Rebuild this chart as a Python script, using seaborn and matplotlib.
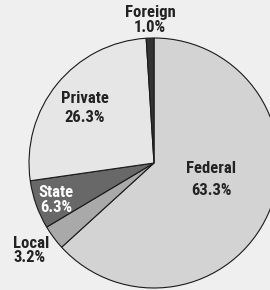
import matplotlib
matplotlib.use("Agg")
import matplotlib.pyplot as plt
import seaborn as sns

sns.set_style("white")
plt.rcParams['font.family'] = ['Roboto Condensed', 'DejaVu Sans']

# data (clockwise from 12 o'clock)
sources = ['Federal', 'Local', 'State', 'Private', 'Foreign']
shares = [63.3, 3.2, 6.3, 26.3, 1.0]
colors = ['#d3d3d3', '#a9a9a9', '#686868', '#e6e6e6', '#333333']

bg = '#efefef'
fig = plt.figure(figsize=(2.7, 2.9), dpi=100, facecolor=bg)
ax = fig.add_axes([0, 0, 1, 1])
ax.set_facecolor(bg)

R = 125
ax.pie(shares, colors=colors, startangle=90, counterclock=False, radius=R,
       wedgeprops=dict(edgecolor='#1a1a1a', linewidth=0.8))
ax.set_xlim(-154, 116)
ax.set_ylim(-127, 163)
ax.set_aspect('auto')
ax.axis('off')

# label anchor (x, baseline of name, baseline of percent), relative to pie centre
label_pos = {
    'Federal': (57, -10, -32),
    'Local': (-141, -85, -99),
    'State': (-98, -34, -49),
    'Private': (-69, 60, 41),
    'Foreign': (-4, 146, 131),
}
text_col = {'State': 'white'}
for name, val in zip(sources, shares):
    x, y1, y2 = label_pos[name]
    ha = 'left' if name == 'Local' else 'center'
    kw = dict(ha=ha, va='baseline', fontsize=12, fontweight='bold',
              color=text_col.get(name, '#222222'))
    ax.text(x, y1, name, **kw)
    ax.text(x, y2, f"{val:.1f}%", **kw)

fig.savefig('out.png', dpi=100, facecolor=bg)
